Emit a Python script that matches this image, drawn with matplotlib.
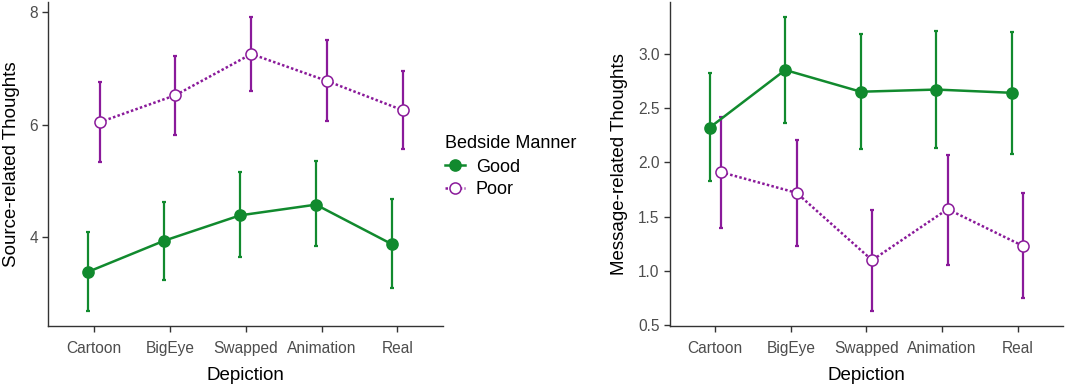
import matplotlib
import matplotlib.pyplot as plt
import numpy as np

matplotlib.use("Agg")

plt.rcParams["font.family"] = ["Liberation Sans", "DejaVu Sans"]

depictions = ["Cartoon", "BigEye", "Swapped", "Animation", "Real"]
groups = ["Good", "Poor"]

# source-related thoughts: mean, lower, upper
source_good = [3.39, 3.94, 4.39, 4.58, 3.88]
source_good_lo = [2.69, 3.25, 3.66, 3.84, 3.11]
source_good_hi = [4.09, 4.63, 5.15, 5.35, 4.68]
source_poor = [6.04, 6.52, 7.25, 6.77, 6.25]
source_poor_lo = [5.33, 5.82, 6.60, 6.06, 5.56]
source_poor_hi = [6.76, 7.22, 7.91, 7.49, 6.95]

# message-related thoughts
message_good = [2.32, 2.85, 2.65, 2.67, 2.64]
message_good_lo = [1.83, 2.36, 2.12, 2.13, 2.08]
message_good_hi = [2.82, 3.34, 3.18, 3.21, 3.20]
message_poor = [1.91, 1.72, 1.10, 1.57, 1.23]
message_poor_lo = [1.40, 1.23, 0.63, 1.06, 0.75]
message_poor_hi = [2.42, 2.21, 1.56, 2.07, 1.72]

GREEN = "#118a2e"
PURPLE = "#8a1a9a"
dodge = 0.075


def draw_panel(ax, good, good_lo, good_hi, poor, poor_lo, poor_hi, ylabel, yticks, yticklabels):
    x = np.arange(1, len(depictions) + 1)
    series = [
        (x - dodge, good, good_lo, good_hi, GREEN, "-", GREEN, "Good"),
        (x + dodge, poor, poor_lo, poor_hi, PURPLE, (0, (1, 0.9)), "white", "Poor"),
    ]
    handles = []
    for xs, m, lo, hi, col, ls, face, lab in series:
        m = np.array(m)
        err = [m - np.array(lo), np.array(hi) - m]
        ax.errorbar(xs, m, yerr=err, fmt="none", ecolor=col, elinewidth=1.6,
                    capsize=1.5, capthick=1.6, zorder=2)
        h, = ax.plot(xs, m, color=col, linestyle=ls, linewidth=1.8, marker="o",
                     markersize=8, markerfacecolor=face, markeredgecolor=col,
                     markeredgewidth=1.1, zorder=3, label=lab)
        handles.append(h)

    lo_all = min(min(good_lo), min(poor_lo))
    hi_all = max(max(good_hi), max(poor_hi))
    pad = (hi_all - lo_all) * 0.05
    ax.set_ylim(lo_all - pad, hi_all + pad)
    ax.set_xlim(0.4, 5.6)
    ax.set_xticks(x)
    ax.set_xticklabels(depictions)
    ax.set_yticks(yticks)
    ax.set_yticklabels(yticklabels)
    ax.set_xlabel("Depiction", fontsize=13.5, color="black", labelpad=8)
    ax.set_ylabel(ylabel, fontsize=13.5, color="black", labelpad=7)
    ax.tick_params(axis="both", labelsize=11.2, labelcolor="#4d4d4d", color="#333333",
                   length=4, width=1.0)
    ax.tick_params(axis="x", pad=7)
    for side in ["top", "right"]:
        ax.spines[side].set_visible(False)
    for side in ["left", "bottom"]:
        ax.spines[side].set_color("#333333")
        ax.spines[side].set_linewidth(1.0)
    return handles


fig = plt.figure(figsize=(10.65, 3.86), dpi=100)
ax1 = fig.add_axes([0.0454, 0.1554, 0.3706, 0.8394])
ax2 = fig.add_axes([0.6291, 0.1554, 0.3689, 0.8394])

handles = draw_panel(ax1, source_good, source_good_lo, source_good_hi,
                     source_poor, source_poor_lo, source_poor_hi,
                     "Source-related Thoughts", [4, 6, 8], ["4", "6", "8"])
draw_panel(ax2, message_good, message_good_lo, message_good_hi,
           message_poor, message_poor_lo, message_poor_hi,
           "Message-related Thoughts", [0.5, 1.0, 1.5, 2.0, 2.5, 3.0],
           ["0.5", "1.0", "1.5", "2.0", "2.5", "3.0"])

fig.text(445 / 1065, 1 - 143 / 386, "Bedside Manner", fontsize=13, va="center", ha="left")
fig.legend(handles, groups, loc="center left", bbox_to_anchor=(445 / 1065, 1 - 178.5 / 386),
           frameon=False, fontsize=13, borderpad=0, borderaxespad=0,
           handlelength=1.1, handletextpad=0.6, labelspacing=0.3)

fig.savefig("out.png", dpi=100)
